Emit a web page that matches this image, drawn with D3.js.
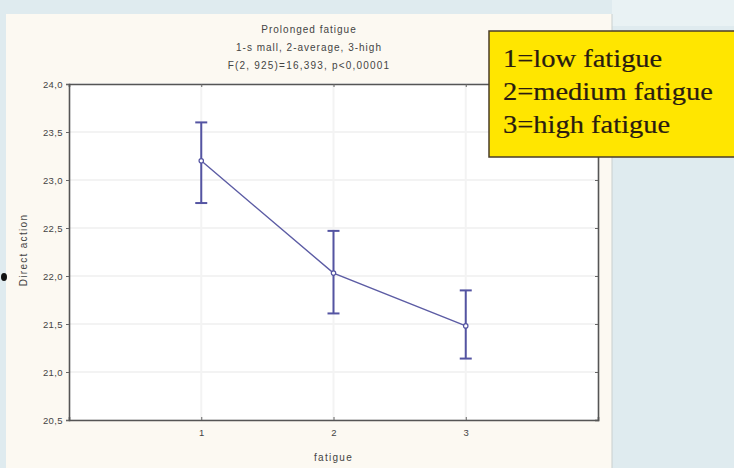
<!DOCTYPE html>
<html><head><meta charset="utf-8">
<script src="https://cdn.jsdelivr.net/npm/d3@7"></script>
<style>html,body{margin:0;padding:0;background:#dfebef;}svg{display:block;}</style>
</head><body>
<svg id="c" width="734" height="468"></svg>
<script>
const categories = [1, 2, 3];
const means = [23.20, 22.03, 21.48];
const upper = [23.60, 22.47, 21.85];
const lower = [22.76, 21.61, 21.14];
const yTicks = [20.5, 21.0, 21.5, 22.0, 22.5, 23.0, 23.5, 24.0];
const yTickLabels = ["20,5", "21,0", "21,5", "22,0", "22,5", "23,0", "23,5", "24,0"];
const titleLines = ["Prolonged fatigue", "1-s mall, 2-average, 3-high", "F(2, 925)=16,393, p<0,00001"];
const legendLines = ["1=low fatigue", "2=medium fatigue", "3=high fatigue"];

const svg = d3.select("#c");
const sans = "Arial, 'Liberation Sans', sans-serif";
// page background
svg.append("rect").attr("x",0).attr("y",0).attr("width",734).attr("height",468).attr("fill","#dfebef");
svg.append("rect").attr("x",612).attr("y",0).attr("width",122).attr("height",26).attr("fill","#e9f2f4");
// cream panel
svg.append("rect").attr("x",6).attr("y",14).attr("width",606).attr("height",454).attr("fill","#fcf9f2");
svg.append("line").attr("x1",612).attr("x2",612).attr("y1",14).attr("y2",468).attr("stroke","#c9cfcf").attr("stroke-width",1);
// bullet
svg.append("ellipse").attr("cx",4).attr("cy",277).attr("rx",3).attr("ry",4).attr("fill","#111");

const L=69, R=598, T=84, B=420;
const x = d3.scaleLinear().domain([0,4]).range([L,R]);
const y = d3.scaleLinear().domain([20.5,24]).range([B,T]);

svg.append("rect").attr("x",L).attr("y",T).attr("width",R-L).attr("height",B-T).attr("fill","#ffffff");
// grid
svg.append("g").selectAll("line").data(yTicks).join("line")
  .attr("x1",L).attr("x2",R).attr("y1",d=>y(d)).attr("y2",d=>y(d))
  .attr("stroke","#f3f3f3").attr("stroke-width",2);
svg.append("g").selectAll("line").data(categories).join("line")
  .attr("x1",d=>x(d)).attr("x2",d=>x(d)).attr("y1",T).attr("y2",B)
  .attr("stroke","#f3f3f3").attr("stroke-width",2);

// axes
const fmt = d => yTickLabels[yTicks.indexOf(d)];
const gl = svg.append("g").attr("transform",`translate(${L},0)`)
  .call(d3.axisLeft(y).tickValues(yTicks).tickFormat(fmt).tickSize(3).tickPadding(3));
const gr = svg.append("g").attr("transform",`translate(${R},0)`)
  .call(d3.axisLeft(y).tickValues(yTicks).tickFormat("").tickSize(3));
const gb = svg.append("g").attr("transform",`translate(0,${B})`)
  .call(d3.axisBottom(x).tickValues(categories).tickFormat(d3.format("d")).tickSize(-3).tickPadding(9));
const gt = svg.append("g").attr("transform",`translate(0,${T})`)
  .call(d3.axisTop(x).tickValues(categories).tickFormat("").tickSize(-3));
[gl,gr,gb,gt].forEach(g=>{
  g.select(".domain").attr("stroke","#555").attr("stroke-width",1.6);
  g.selectAll(".tick line").attr("stroke","#666");
  g.selectAll("text").attr("fill","#444").style("font-family",sans).style("font-size","9.5px").style("letter-spacing","0.4px");
});

// title
svg.append("g").selectAll("text").data(titleLines).join("text")
  .attr("x",309).attr("y",(d,i)=>33+i*18).attr("text-anchor","middle")
  .attr("fill","#444").style("font-family",sans).style("font-size","10px").style("letter-spacing",(d,i)=>i===2?"1.2px":"1px")
  .text(d=>d);
// axis labels
svg.append("text").attr("x",(L+R)/2).attr("y",461).attr("text-anchor","middle")
  .attr("fill","#444").style("font-family",sans).style("font-size","10px").style("letter-spacing","1.3px").text("fatigue");
svg.append("text").attr("transform","translate(27,250) rotate(-90)").attr("text-anchor","middle")
  .attr("fill","#444").style("font-family",sans).style("font-size","10px").style("letter-spacing","1.3px").text("Direct action");

// data
const data = categories.map((c,i)=>({c, m:means[i], u:upper[i], l:lower[i]}));
const col = "#5454a2";
svg.append("path").datum(data)
  .attr("d", d3.line().x(d=>x(d.c)).y(d=>y(d.m)))
  .attr("fill","none").attr("stroke","#5c5ca4").attr("stroke-width",1.4);
const eb = svg.append("g").selectAll("g").data(data).join("g");
eb.append("line").attr("x1",d=>x(d.c)).attr("x2",d=>x(d.c)).attr("y1",d=>y(d.u)).attr("y2",d=>y(d.l))
  .attr("stroke",col).attr("stroke-width",2);
eb.append("line").attr("x1",d=>x(d.c)-6).attr("x2",d=>x(d.c)+6).attr("y1",d=>y(d.u)).attr("y2",d=>y(d.u))
  .attr("stroke",col).attr("stroke-width",2);
eb.append("line").attr("x1",d=>x(d.c)-6).attr("x2",d=>x(d.c)+6).attr("y1",d=>y(d.l)).attr("y2",d=>y(d.l))
  .attr("stroke",col).attr("stroke-width",2);
eb.append("circle").attr("cx",d=>x(d.c)).attr("cy",d=>y(d.m)).attr("r",2.2)
  .attr("fill","#fff").attr("stroke",col).attr("stroke-width",1.2);

// legend box
svg.append("rect").attr("x",489).attr("y",31).attr("width",250).attr("height",126)
  .attr("fill","#ffe600").attr("stroke","#4a3c28").attr("stroke-width",1.5);
svg.append("g").attr("transform","translate(503,0) scale(1.14,1)")
  .selectAll("text").data(legendLines).join("text")
  .attr("x",0).attr("y",(d,i)=>67+i*33)
  .attr("fill","#2a1c10").attr("stroke","#2a1c10").attr("stroke-width",0.2)
  .style("font-family","'Liberation Serif', 'Times New Roman', serif").style("font-size","25px")
  .text(d=>d);
</script>
</body></html>
